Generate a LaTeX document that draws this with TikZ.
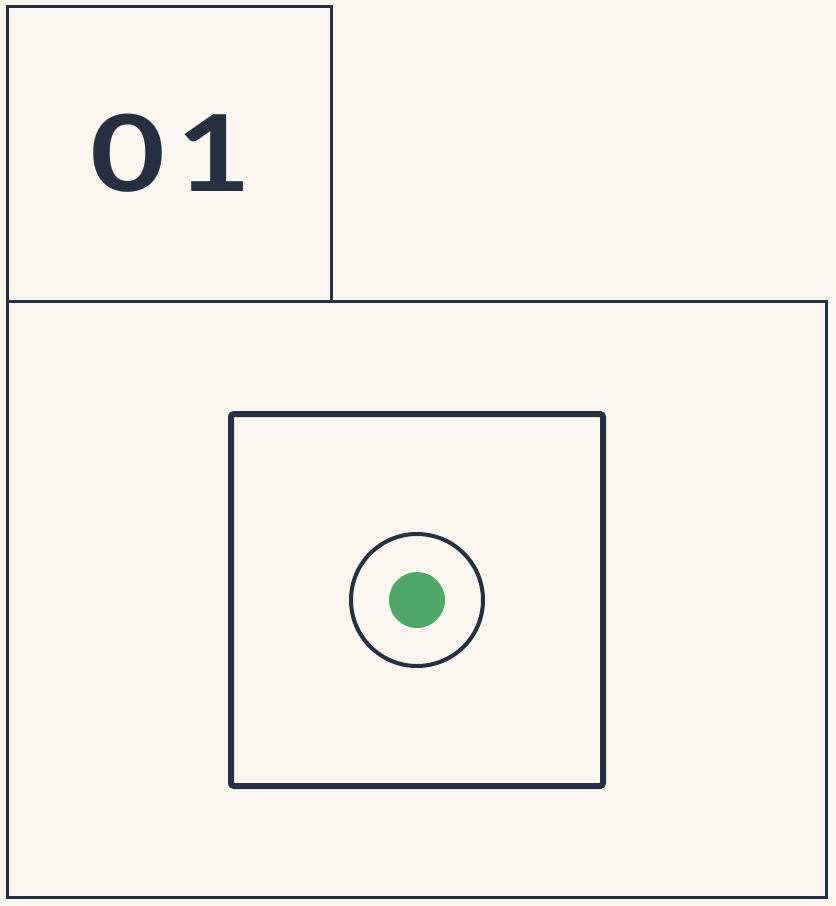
\documentclass[tikz,border=0pt]{standalone}
\usepackage{fontspec}
\newfontfamily\numfont{Lato}
\definecolor{ink}{HTML}{263040}
\definecolor{paper}{HTML}{F9F6F0}
\definecolor{dot}{HTML}{4FA86A}
\begin{document}
\begin{tikzpicture}[x=1pt,y=-1pt,
  thinbox/.style={draw=ink,line width=3pt},
  thickbox/.style={draw=ink,line width=6pt,rounded corners=3pt},
  ring/.style={draw=ink,line width=4pt}]
\fill[paper] (0,0) rectangle (836,906);
\useasboundingbox (0,0) rectangle (836,906);
\draw[thinbox] (7,6) rectangle (331,301);
\draw[thinbox] (7,301) rectangle (826,897);
\node[text=ink,font=\numfont\bfseries\fontsize{106}{106}\selectfont\addfontfeature{LetterSpace=9},inner sep=0pt,xscale=1.22] (num) at (171,153) {01};
\draw[thickbox] (231,414) rectangle (603,786);
\draw[ring] (417,600) circle (66);
\fill[dot] (417,600) circle (28);
\end{tikzpicture}
\end{document}
